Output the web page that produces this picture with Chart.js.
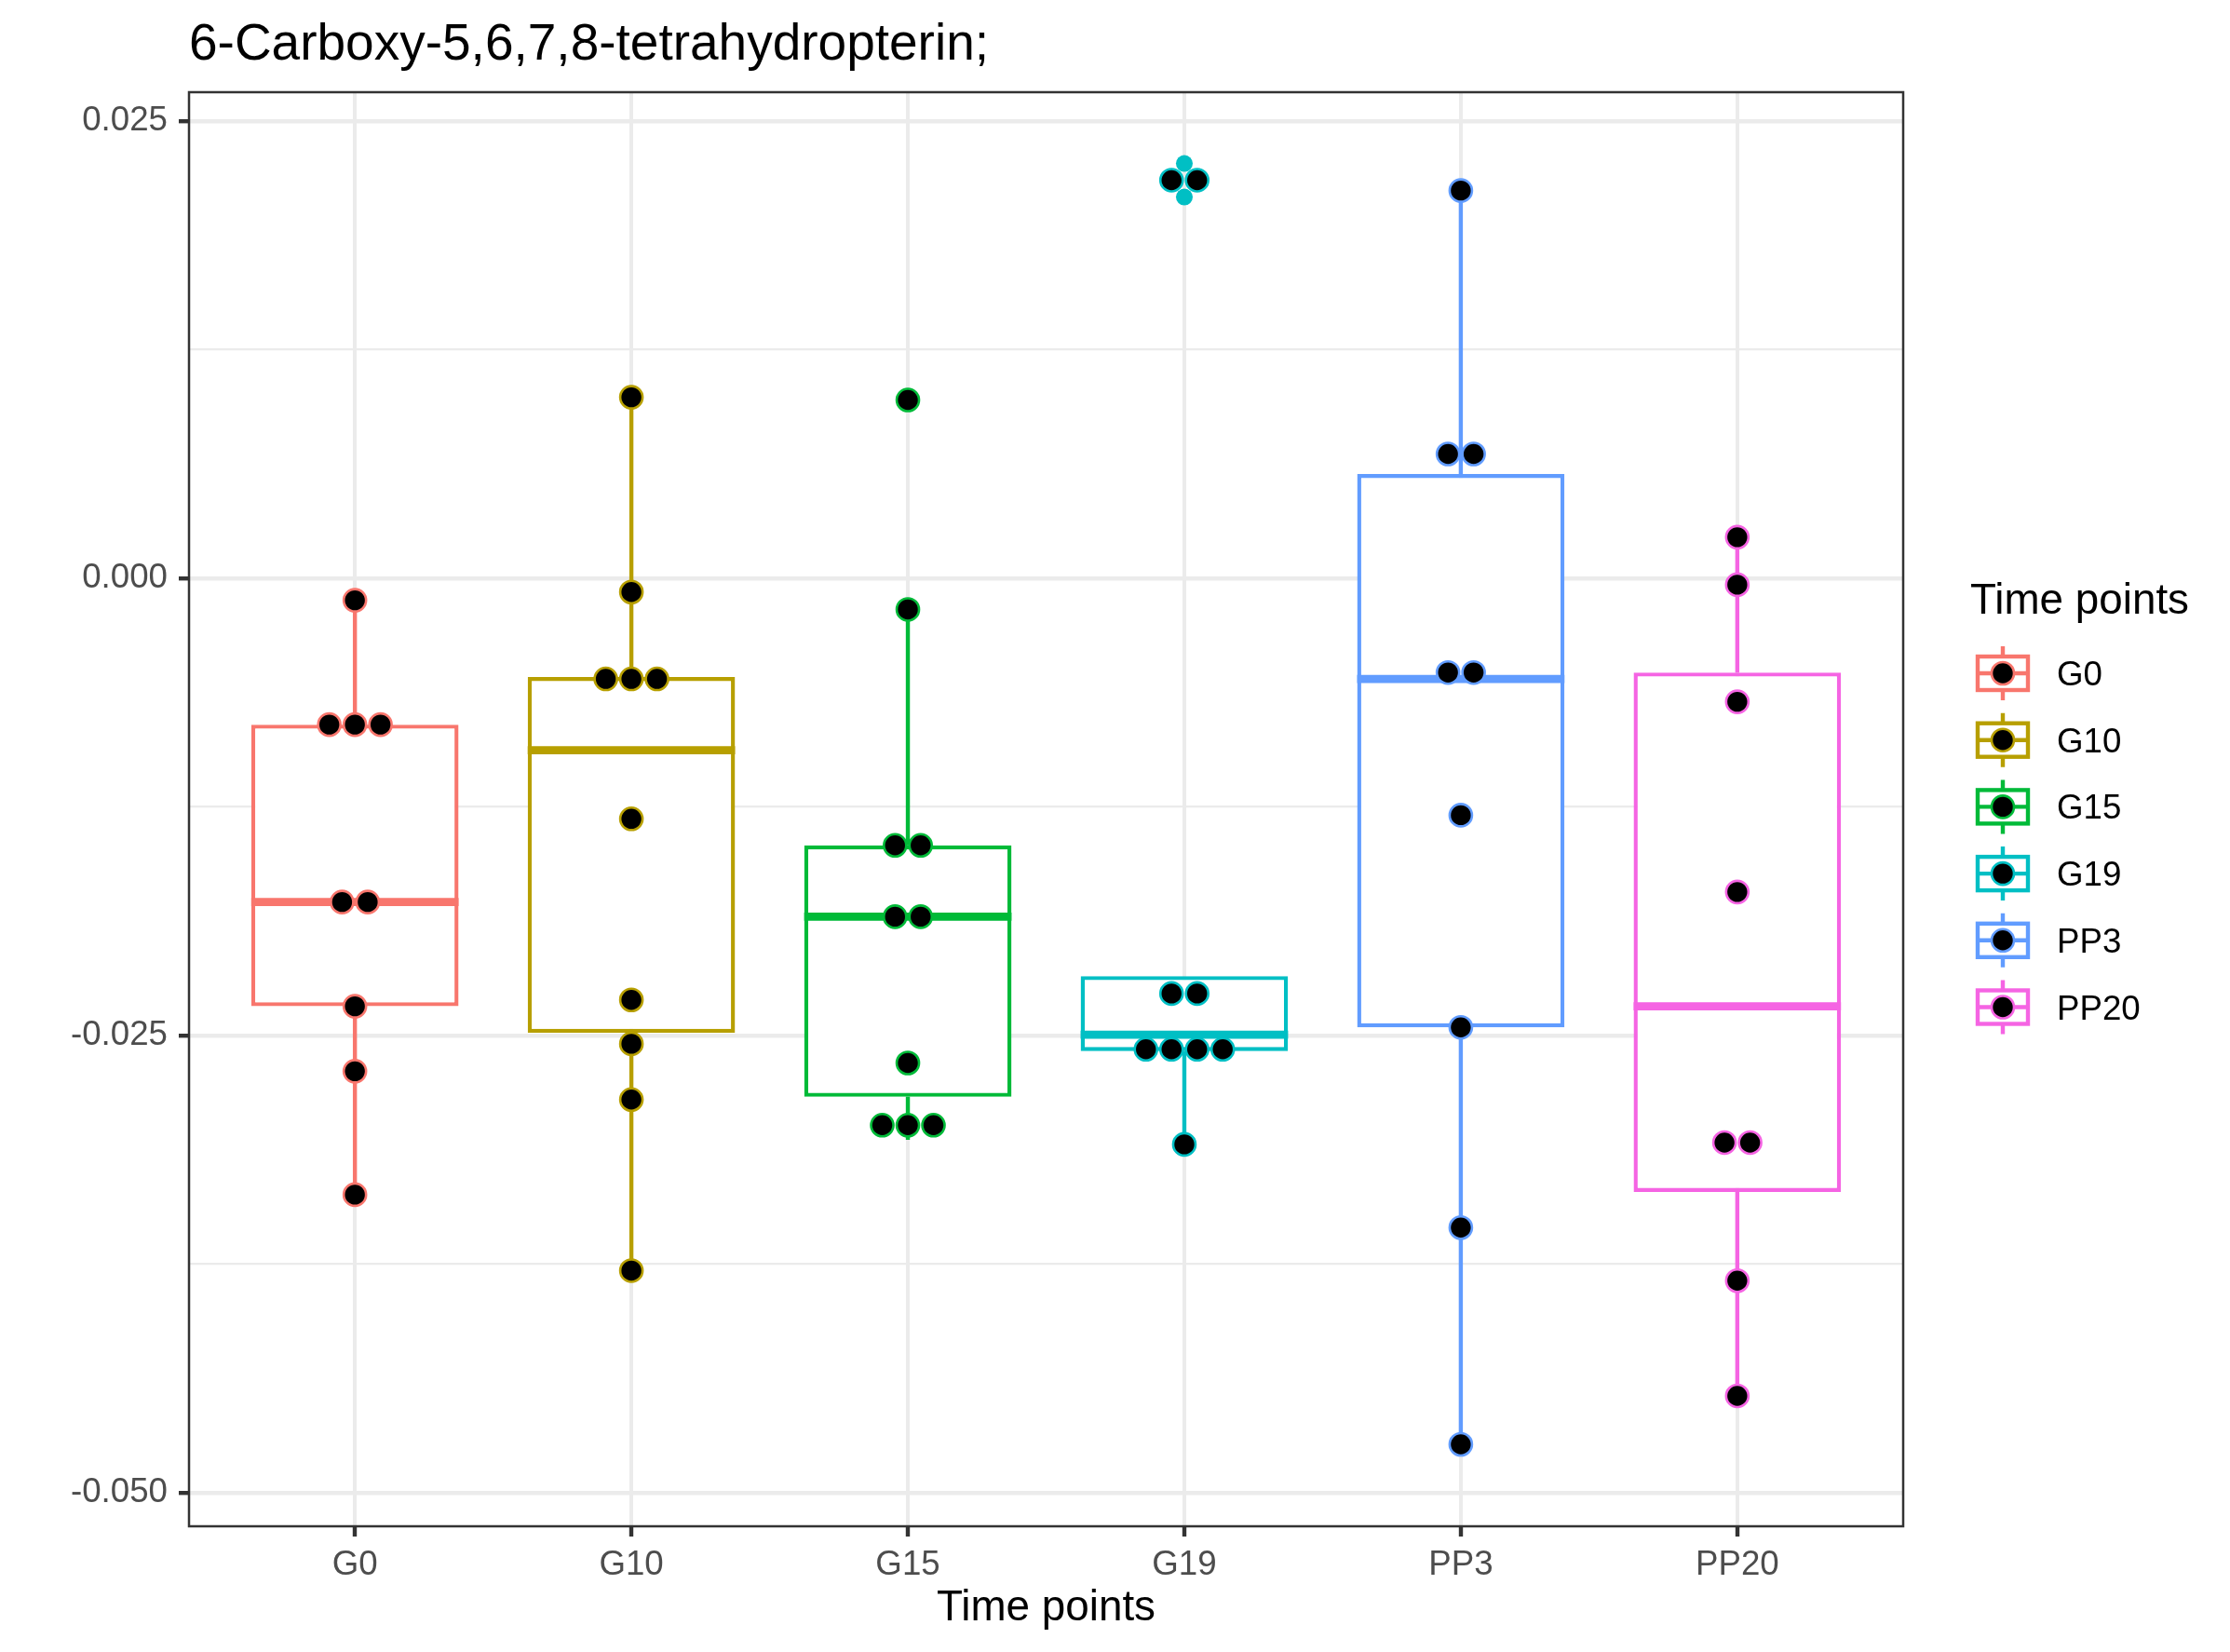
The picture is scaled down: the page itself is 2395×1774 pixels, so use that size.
<!DOCTYPE html>
<html>
<head>
<meta charset="utf-8">
<script src="https://cdn.jsdelivr.net/npm/chart.js@4.4.1/dist/chart.umd.min.js"></script>
<style>
html,body{margin:0;padding:0;background:#fff;}
canvas{display:block;}
</style>
</head>
<body>
<canvas id="chart" width="2395" height="1774"></canvas>
<script>
const groups=["G0","G10","G15","G19","PP3","PP20"];
const colours=["#F8766D","#B79F00","#00BA38","#00BFC4","#619CFF","#F564E3"];

// box stats
const whiskLow=[-0.0337,-0.03785,-0.0307,-0.03095,-0.04735,-0.0447];
const boxQ1=[-0.0234,-0.02485,-0.02835,-0.02585,-0.02455,-0.03355];
const boxMed=[-0.0177,-0.0094,-0.0185,-0.02495,-0.0055,-0.0234];
const boxQ3=[-0.0080,-0.0054,-0.0146,-0.02175,0.0057,-0.00515];
const whiskHigh=[-0.0012,0.0099,-0.0017,-0.02175,0.0212,0.00225];

// boxplot outliers
const outG15=[0.0098];
const outG19=[0.02268,0.02085];
const outliers=[[],[],outG15,outG19,[],[]];

// dots (binned values)
const dotsG0=[-0.0012,-0.0080,-0.0080,-0.0080,-0.0177,-0.0177,-0.0234,-0.02695,-0.0337];
const dotsG10=[0.0099,-0.00075,-0.0055,-0.0055,-0.0055,-0.01315,-0.02305,-0.02545,-0.0285,-0.03785];
const dotsG15=[0.00975,-0.0017,-0.0146,-0.0146,-0.0185,-0.0185,-0.0265,-0.0299,-0.0299,-0.0299];
const dotsG19=[0.02177,0.02177,-0.0227,-0.0227,-0.02575,-0.02575,-0.02575,-0.02575,-0.03095];
const dotsPP3=[0.0212,0.0068,0.0068,-0.00515,-0.00515,-0.01295,-0.02455,-0.0355,-0.04735];
const dotsPP20=[0.00225,-0.00035,-0.00675,-0.01715,-0.03085,-0.03085,-0.0384,-0.0447];
const dots=[dotsG0,dotsG10,dotsG15,dotsG19,dotsPP3,dotsPP20];

const yTicks=[-0.05,-0.0375,-0.025,-0.0125,0,0.0125,0.025];
const yTickLabels=["-0.050","","-0.025","","0.000","","0.025"];

const dotStep=0.0926;
const halfBox=0.375;
const font="Liberation Sans";

function stackDots(vals,x){
  const counts={};
  vals.forEach(v=>{counts[v]=(counts[v]||0)+1;});
  const seen={};
  return vals.map(v=>{
    const k=seen[v]||0; seen[v]=k+1;
    return {x:x+(k-(counts[v]-1)/2)*dotStep,y:v};
  });
}

const datasets=[];
groups.forEach((g,i)=>{
  const x=i+1;
  datasets.push({type:'line',data:[{x:x,y:boxQ3[i]},{x:x,y:whiskHigh[i]}],borderColor:colours[i],borderWidth:4.4,pointRadius:0,fill:false,order:6});
  datasets.push({type:'line',data:[{x:x,y:boxQ1[i]},{x:x,y:whiskLow[i]}],borderColor:colours[i],borderWidth:4.4,pointRadius:0,fill:false,order:6});
  datasets.push({type:'line',data:[{x:x-halfBox,y:boxMed[i]},{x:x+halfBox,y:boxMed[i]}],borderColor:colours[i],borderWidth:8.8,pointRadius:0,fill:false,order:4});
  datasets.push({type:'line',showLine:false,data:outliers[i].map(v=>({x:x,y:v})),pointRadius:9,pointBorderWidth:0,pointBackgroundColor:colours[i],order:3});
  datasets.push({type:'line',showLine:false,data:stackDots(dots[i],x),pointRadius:12,pointBorderWidth:2.6,pointBackgroundColor:'#000000',pointBorderColor:colours[i],order:1});
});
datasets.push({type:'bar',data:groups.map((g,i)=>({x:i+1,y:[boxQ1[i],boxQ3[i]]})),backgroundColor:'#ffffff',borderColor:colours,borderWidth:4.4,borderSkipped:false,barPercentage:0.75,categoryPercentage:1,order:5});

const extras={
  id:'extras',
  afterDraw(chart){
    const ctx=chart.ctx, a=chart.chartArea;
    ctx.save();
    ctx.strokeStyle='#333333'; ctx.lineWidth=2.5;
    ctx.strokeRect(a.left,a.top,a.right-a.left,a.bottom-a.top);
    ctx.fillStyle='#000'; ctx.textAlign='left'; ctx.textBaseline='alphabetic';
    ctx.font='55px "'+font+'"';
    ctx.fillText('6-Carboxy-5,6,7,8-tetrahydropterin;',203,64);
    ctx.font='45.8px "'+font+'"';
    ctx.fillText('Time points',2116,659);
    const kx=2151;
    groups.forEach((g,i)=>{
      const cy=723+i*71.7;
      ctx.strokeStyle=colours[i]; ctx.lineWidth=4.4;
      ctx.beginPath();
      ctx.moveTo(kx,cy-29); ctx.lineTo(kx,cy-18);
      ctx.moveTo(kx,cy+18); ctx.lineTo(kx,cy+29);
      ctx.stroke();
      ctx.fillStyle='#fff'; ctx.fillRect(kx-27,cy-18,54,36);
      ctx.strokeRect(kx-27,cy-18,54,36);
      ctx.beginPath(); ctx.moveTo(kx-27,cy); ctx.lineTo(kx+27,cy); ctx.stroke();
      ctx.beginPath(); ctx.arc(kx,cy,12,0,2*Math.PI);
      ctx.fillStyle='#000'; ctx.fill(); ctx.lineWidth=2.6; ctx.stroke();
      ctx.fillStyle='#000'; ctx.font='36.7px "'+font+'"';
      ctx.fillText(g,2209,cy+13);
    });
    ctx.restore();
  }
};

new Chart(document.getElementById('chart'),{
  type:'scatter',
  data:{datasets:datasets},
  plugins:[extras],
  options:{
    responsive:false,
    devicePixelRatio:1,
    animation:false,
    events:[],
    layout:{padding:{left:0,top:99,right:351,bottom:0}},
    plugins:{legend:{display:false},tooltip:{enabled:false},title:{display:false}},
    scales:{
      x:{
        type:'linear',min:0.4,max:6.6,offset:false,
        afterBuildTicks:s=>{s.ticks=groups.map((g,i)=>({value:i+1}));},
        afterFit:s=>{s.height=135;},
        ticks:{autoSkip:false,maxRotation:0,padding:9,color:'#4D4D4D',font:{family:font,size:36.7},callback:(v,idx)=>groups[idx]},
        grid:{color:'#EBEBEB',lineWidth:4,tickColor:'#333333',tickLength:11,tickWidth:4.4,offset:false},
        border:{display:false},
        title:{display:true,text:'Time points',color:'#000',font:{family:font,size:45.8,lineHeight:1.2},padding:{top:0,bottom:19}}
      },
      y:{
        type:'linear',min:-0.05183,max:0.02658,
        afterBuildTicks:s=>{s.ticks=yTicks.map(v=>({value:v}));},
        afterFit:s=>{s.width=203;},
        ticks:{autoSkip:false,padding:12,color:'#4D4D4D',font:{family:font,size:36.7},callback:(v,idx)=>yTickLabels[idx]},
        grid:{
          color:'#EBEBEB',
          lineWidth:c=>yTickLabels[c.index]?4.4:2.2,
          tickColor:c=>yTickLabels[c.index]?'#333333':'rgba(0,0,0,0)',
          tickLength:11,tickWidth:4.4
        },
        border:{display:false}
      }
    }
  }
});
</script>
</body>
</html>
